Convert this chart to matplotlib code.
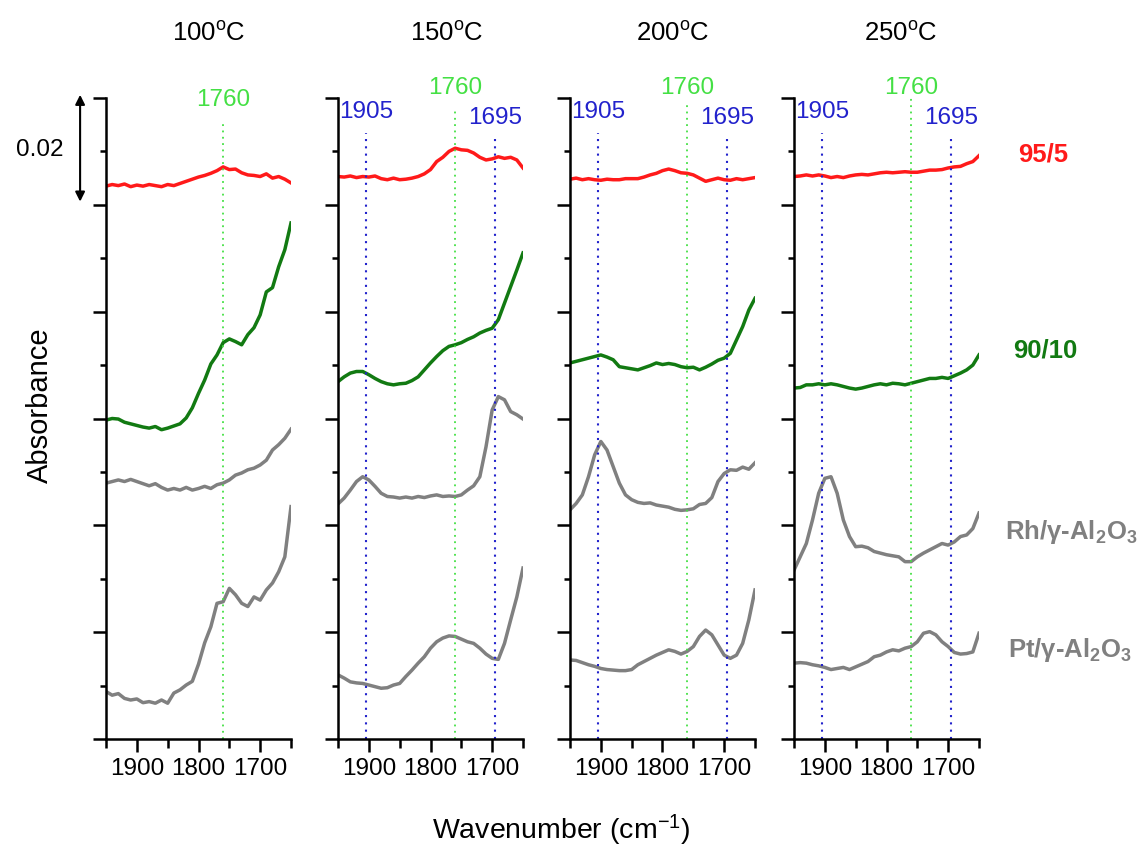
import matplotlib
matplotlib.use("Agg")
import matplotlib.pyplot as plt
from matplotlib.ticker import MultipleLocator

plt.rcParams['font.family'] = ['Liberation Sans', 'DejaVu Sans']
plt.rcParams['mathtext.fontset'] = 'custom'
plt.rcParams['mathtext.rm'] = 'Liberation Sans'
plt.rcParams['mathtext.bf'] = 'Liberation Sans:bold'
plt.rcParams['mathtext.it'] = 'Liberation Sans:italic'

# ---------------- data ----------------
wavenumber = [1950, 1940, 1930, 1920, 1910, 1900, 1890, 1880, 1870, 1860,
              1850, 1840, 1830, 1820, 1810, 1800, 1790, 1780, 1770, 1760,
              1750, 1740, 1730, 1720, 1710, 1700, 1690, 1680, 1670, 1660, 1650]

temperatures = ["100", "150", "200", "250"]
sample_names = ["95/5", "90/10", "Rh/γ-Al$_\\mathbf{2}$O$_\\mathbf{3}$", "Pt/γ-Al$_\\mathbf{2}$O$_\\mathbf{3}$"]

# 100 C
t100_95_5 = [0.1035, 0.1038, 0.1036, 0.1039, 0.1034, 0.1037, 0.1035, 0.1038, 0.1036, 0.1034,
             0.1038, 0.1036, 0.1040, 0.1044, 0.1048, 0.1052, 0.1055, 0.1059, 0.1064, 0.1071,
             0.1066, 0.1067, 0.1060, 0.1056, 0.1055, 0.1053, 0.1058, 0.1050, 0.1053, 0.1048, 0.1041]
t100_90_10 = [0.0597, 0.0600, 0.0599, 0.0593, 0.0590, 0.0587, 0.0584, 0.0582, 0.0585, 0.0579,
              0.0582, 0.0586, 0.0590, 0.0601, 0.0620, 0.0647, 0.0672, 0.0702, 0.0719, 0.0742,
              0.0749, 0.0744, 0.0738, 0.0757, 0.0770, 0.0794, 0.0837, 0.0845, 0.0884, 0.0916, 0.0966]
t100_rh = [0.0479, 0.0482, 0.0485, 0.0482, 0.0486, 0.0482, 0.0478, 0.0474, 0.0478, 0.0471,
           0.0466, 0.0469, 0.0466, 0.0471, 0.0466, 0.0469, 0.0473, 0.0469, 0.0476, 0.0479,
           0.0485, 0.0494, 0.0498, 0.0504, 0.0507, 0.0513, 0.0522, 0.0541, 0.0551, 0.0563, 0.0580]
t100_pt = [0.0089, 0.0082, 0.0085, 0.0076, 0.0073, 0.0075, 0.0068, 0.0070, 0.0067, 0.0073,
           0.0067, 0.0086, 0.0092, 0.0101, 0.0108, 0.0140, 0.0180, 0.0210, 0.0254, 0.0257,
           0.0282, 0.0270, 0.0254, 0.0248, 0.0266, 0.0260, 0.0279, 0.0292, 0.0313, 0.0341, 0.0435]

# 150 C
t150_95_5 = [0.1053, 0.1052, 0.1054, 0.1051, 0.1053, 0.1052, 0.1054, 0.1049, 0.1047, 0.1050,
             0.1047, 0.1048, 0.1050, 0.1053, 0.1058, 0.1066, 0.1081, 0.1089, 0.1100, 0.1106,
             0.1103, 0.1102, 0.1097, 0.1089, 0.1084, 0.1086, 0.1090, 0.1087, 0.1089, 0.1084, 0.1069]
t150_90_10 = [0.0669, 0.0678, 0.0685, 0.0688, 0.0688, 0.0682, 0.0675, 0.0669, 0.0665, 0.0663,
              0.0665, 0.0666, 0.0671, 0.0678, 0.0691, 0.0704, 0.0716, 0.0727, 0.0735, 0.0738,
              0.0742, 0.0748, 0.0753, 0.0760, 0.0765, 0.0769, 0.0785, 0.0816, 0.0847, 0.0878, 0.0910]
t150_rh = [0.0440, 0.0451, 0.0466, 0.0482, 0.0491, 0.0485, 0.0473, 0.0460, 0.0454, 0.0453,
           0.0451, 0.0453, 0.0451, 0.0454, 0.0452, 0.0455, 0.0457, 0.0454, 0.0455, 0.0454,
           0.0457, 0.0466, 0.0474, 0.0491, 0.0547, 0.0616, 0.0641, 0.0635, 0.0613, 0.0607, 0.0599]
t150_pt = [0.0120, 0.0114, 0.0107, 0.0105, 0.0104, 0.0101, 0.0098, 0.0095, 0.0096, 0.0101,
           0.0104, 0.0117, 0.0129, 0.0142, 0.0154, 0.0170, 0.0182, 0.0189, 0.0193, 0.0192,
           0.0187, 0.0182, 0.0179, 0.0170, 0.0159, 0.0151, 0.0149, 0.0179, 0.0223, 0.0266, 0.0320]

# 200 C
t200_95_5 = [0.1048, 0.1050, 0.1047, 0.1049, 0.1047, 0.1046, 0.1048, 0.1047, 0.1047, 0.1049,
             0.1049, 0.1049, 0.1052, 0.1056, 0.1059, 0.1064, 0.1067, 0.1064, 0.1060, 0.1059,
             0.1056, 0.1050, 0.1044, 0.1047, 0.1050, 0.1047, 0.1046, 0.1049, 0.1047, 0.1049, 0.1051]
t200_90_10 = [0.0704, 0.0707, 0.0710, 0.0713, 0.0716, 0.0719, 0.0715, 0.0710, 0.0697, 0.0695,
              0.0693, 0.0691, 0.0695, 0.0699, 0.0704, 0.0701, 0.0703, 0.0701, 0.0697, 0.0695,
              0.0696, 0.0691, 0.0696, 0.0702, 0.0709, 0.0713, 0.0722, 0.0747, 0.0772, 0.0803, 0.0825]
t200_rh = [0.0429, 0.0441, 0.0457, 0.0491, 0.0532, 0.0557, 0.0541, 0.0510, 0.0479, 0.0457,
           0.0448, 0.0443, 0.0441, 0.0442, 0.0438, 0.0436, 0.0434, 0.0430, 0.0428, 0.0429,
           0.0431, 0.0439, 0.0441, 0.0452, 0.0482, 0.0497, 0.0504, 0.0503, 0.0509, 0.0505, 0.0517]
t200_pt = [0.0148, 0.0147, 0.0143, 0.0139, 0.0136, 0.0132, 0.0130, 0.0129, 0.0128, 0.0128,
           0.0130, 0.0139, 0.0145, 0.0151, 0.0157, 0.0162, 0.0167, 0.0164, 0.0159, 0.0164,
           0.0173, 0.0192, 0.0204, 0.0195, 0.0176, 0.0157, 0.0151, 0.0157, 0.0179, 0.0223, 0.0279]

# 250 C
t250_95_5 = [0.1053, 0.1054, 0.1056, 0.1054, 0.1056, 0.1054, 0.1051, 0.1053, 0.1051, 0.1054,
             0.1056, 0.1057, 0.1056, 0.1058, 0.1060, 0.1061, 0.1060, 0.1061, 0.1062, 0.1061,
             0.1061, 0.1063, 0.1065, 0.1065, 0.1066, 0.1069, 0.1071, 0.1072, 0.1077, 0.1081, 0.1092]
t250_90_10 = [0.0657, 0.0658, 0.0663, 0.0663, 0.0665, 0.0663, 0.0665, 0.0663, 0.0660, 0.0657,
              0.0655, 0.0657, 0.0660, 0.0663, 0.0665, 0.0663, 0.0666, 0.0665, 0.0663, 0.0666,
              0.0669, 0.0672, 0.0675, 0.0675, 0.0677, 0.0675, 0.0680, 0.0685, 0.0691, 0.0700, 0.0719]
t250_rh = [0.0316, 0.0341, 0.0366, 0.0410, 0.0460, 0.0488, 0.0491, 0.0460, 0.0410, 0.0379,
           0.0360, 0.0361, 0.0358, 0.0351, 0.0348, 0.0345, 0.0343, 0.0341, 0.0332, 0.0332,
           0.0341, 0.0348, 0.0354, 0.0360, 0.0366, 0.0363, 0.0369, 0.0379, 0.0382, 0.0394, 0.0423]
t250_pt = [0.0142, 0.0143, 0.0142, 0.0139, 0.0137, 0.0134, 0.0130, 0.0132, 0.0134, 0.0130,
           0.0135, 0.0140, 0.0145, 0.0154, 0.0157, 0.0163, 0.0167, 0.0165, 0.0170, 0.0173,
           0.0182, 0.0198, 0.0201, 0.0195, 0.0182, 0.0173, 0.0162, 0.0159, 0.0160, 0.0163, 0.0198]

panel_series = [
    [t100_95_5, t100_90_10, t100_rh, t100_pt],
    [t150_95_5, t150_90_10, t150_rh, t150_pt],
    [t200_95_5, t200_90_10, t200_rh, t200_pt],
    [t250_95_5, t250_90_10, t250_rh, t250_pt],
]

# marker bands (wavenumbers) shown in each panel
green_band = 1760
blue_bands = [1905, 1695]

# ---------------- styling ----------------
W, H = 1140, 848
series_colors = ['#ff1a1a', '#127a12', '#808080', '#808080']
band_green = '#44e044'
band_blue = '#2222cc'

fig = plt.figure(figsize=(W / 100, H / 100), dpi=100)

panel_left_px = [106, 338, 570, 794]
panel_w_px = 185
top_px, bot_px = 98, 739

def fx(px):
    return px / W

def fy(py):
    return 1 - py / H

axes = []
for i, lp in enumerate(panel_left_px):
    ax = fig.add_axes([fx(lp), fy(bot_px), panel_w_px / W, (bot_px - top_px) / H])
    axes.append(ax)
    for series, col in zip(panel_series[i], series_colors):
        ax.plot(wavenumber, series, color=col, lw=2.5, solid_joinstyle='round')
    ax.set_xlim(1950, 1650)
    ax.set_ylim(0, 0.12)
    for s in ['top', 'right']:
        ax.spines[s].set_visible(False)
    for s in ['left', 'bottom']:
        ax.spines[s].set_linewidth(1.8)
    ax.xaxis.set_major_locator(plt.FixedLocator([1900, 1800, 1700]))
    ax.xaxis.set_minor_locator(plt.FixedLocator([1950, 1850, 1750, 1650]))
    ax.yaxis.set_major_locator(MultipleLocator(0.02))
    ax.yaxis.set_minor_locator(MultipleLocator(0.01))
    ax.tick_params(axis='x', which='major', length=9.5, width=1.8, direction='out',
                   labelsize=17.5, pad=4)
    ax.tick_params(axis='x', which='minor', length=6.5, width=1.8, direction='out')
    ax.tick_params(axis='y', which='major', length=9.5, width=1.8, direction='out',
                   labelleft=False)
    ax.tick_params(axis='y', which='minor', length=4.5, width=1.8, direction='out')

    # vertical marker lines and labels
    if i == 0:
        ax.vlines(green_band, 0, 0.1155, colors=band_green, linestyles=(0, (1, 2.5)), lw=1.3)
        ax.text(green_band, 0.1197, str(green_band), color=band_green, fontsize=17.5,
                ha='center', va='center', clip_on=False)
    else:
        top_g = [0, 0.1175, 0.1193, 0.1206][i]
        ax.vlines(green_band, 0, top_g, colors=band_green, linestyles=(0, (1, 2.5)),
                  lw=1.3, clip_on=False)
        ax.text(green_band, 0.1219, str(green_band), color=band_green, fontsize=17.5,
                ha='center', va='center', clip_on=False)
        for b, ylab, ytop in zip(blue_bands, [0.1174, 0.1163], [0.1135, 0.1125]):
            ax.vlines(b, 0, ytop, colors=band_blue, linestyles=(0, (1, 2.5)), lw=1.5)
            ax.text(b, ylab, str(b), color=band_blue, fontsize=17.5,
                    ha='center', va='center', clip_on=False)

# temperature titles
title_x = [209, 447, 673, 901]
for t, x in zip(temperatures, title_x):
    fig.text(fx(x), fy(34), t + r'$^{\mathrm{o}}$C', fontsize=18.5, ha='center', va='center')

# scale bar on first panel
ax0 = axes[0]
ax0.annotate('', xy=(-0.14, 0.1206), xytext=(-0.14, 0.1006),
             xycoords=ax0.get_yaxis_transform(), textcoords=ax0.get_yaxis_transform(),
             arrowprops=dict(arrowstyle='<|-|>', color='black', lw=1.5,
                             shrinkA=0, shrinkB=0, mutation_scale=14))
fig.text(fx(40), fy(150), '0.02', fontsize=17.5, ha='center', va='center')

# sample labels on the right
label_pos = [(1018, 154), (1013, 351), (1005, 532), (1008, 650)]
for name, col, (x, y) in zip(sample_names, series_colors, label_pos):
    fig.text(fx(x), fy(y), name, color=col, fontsize=18.5, fontweight='bold',
             ha='left', va='center')

# axis labels
fig.text(fx(40), fy(405), 'Absorbance', fontsize=21, rotation=90, ha='center', va='center')
fig.text(fx(561), fy(830), 'Wavenumber (cm$^{-1}$)', fontsize=20.5, ha='center', va='center')

fig.savefig('out.png', dpi=100)
